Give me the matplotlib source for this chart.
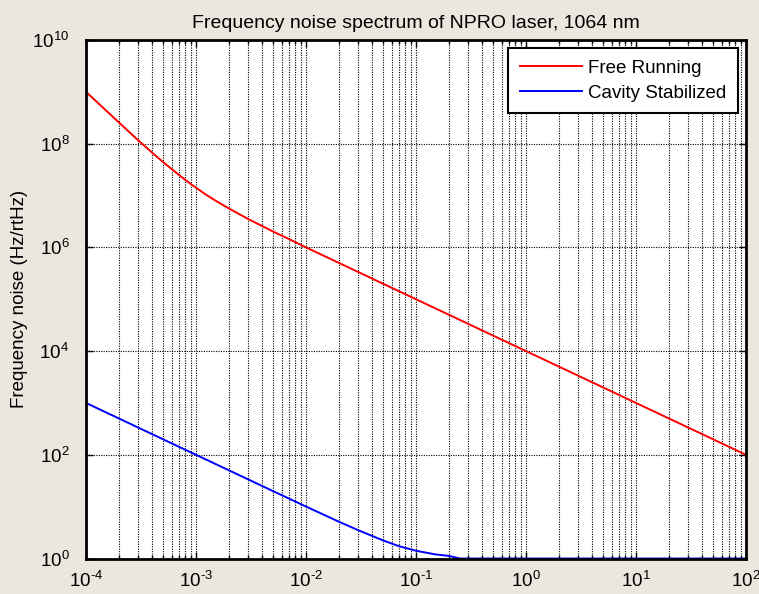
import matplotlib
matplotlib.use("Agg")
import matplotlib.pyplot as plt
from matplotlib.ticker import FixedLocator, FixedFormatter, NullFormatter

# Frequency noise spectra (Hz/rtHz) versus Fourier frequency (Hz)
freq_free = [1e-4, 1.5e-4, 2e-4, 3e-4, 4e-4, 5e-4, 6e-4, 7e-4, 8e-4, 9e-4, 1e-3,
             1.2e-3, 1.5e-3, 2e-3, 3e-3, 4e-3, 5e-3, 7e-3, 1e-2, 2e-2, 5e-2,
             1e-1, 1e0, 1e1, 1e2]
noise_free = [1.0e9, 4.5e8, 2.55e8, 1.15e8, 6.7e7, 4.45e7, 3.25e7, 2.5e7, 2.0e7, 1.66e7, 1.42e7,
              1.08e7, 8.0e6, 5.6e6, 3.5e6, 2.58e6, 2.03e6, 1.45e6, 1.0e6, 5.0e5, 2.0e5,
              1.0e5, 1.0e4, 1.0e3, 1.0e2]

freq_cav = [1e-4, 2e-4, 5e-4, 1e-3, 2e-3, 5e-3, 1e-2, 2e-2, 3e-2, 5e-2,
            7e-2, 1e-1, 1.5e-1, 2e-1, 2.5e-1, 5e-1, 1e0, 1e1, 1e2]
noise_cav = [1000, 500, 200, 100, 50, 20, 10.05, 5.1, 3.5, 2.24,
             1.73, 1.41, 1.2, 1.12, 1.0, 1.0, 1.0, 1.0, 1.0]

series_names = ["Free Running", "Cavity Stabilized"]
series_colors = ["#ff0000", "#0000ff"]

x_ticks = [1e-4, 1e-3, 1e-2, 1e-1, 1e0, 1e1, 1e2]
x_ticklabels = [r"$\mathregular{10^{\text{-}4}}$", r"$\mathregular{10^{\text{-}3}}$",
                r"$\mathregular{10^{\text{-}2}}$", r"$\mathregular{10^{\text{-}1}}$",
                r"$\mathregular{10^{0}}$", r"$\mathregular{10^{1}}$", r"$\mathregular{10^{2}}$"]
y_ticks = [1e0, 1e2, 1e4, 1e6, 1e8, 1e10]
y_ticklabels = [r"$\mathregular{10^{0}}$", r"$\mathregular{10^{2}}$", r"$\mathregular{10^{4}}$",
                r"$\mathregular{10^{6}}$", r"$\mathregular{10^{8}}$", r"$\mathregular{10^{10}}$"]

title = "Frequency noise spectrum of NPRO laser, 1064 nm"
ylabel = "Frequency noise (Hz/rtHz)"

plt.rcParams["font.family"] = ["Liberation Sans", "DejaVu Sans"]
plt.rcParams["mathtext.fontset"] = "custom"
plt.rcParams["mathtext.rm"] = "Liberation Sans"
plt.rcParams["axes.unicode_minus"] = False

bg = "#ebe7de"
fig = plt.figure(figsize=(7.59, 5.94), dpi=100, facecolor=bg)
ax = fig.add_axes([86 / 759, 1 - 558.5 / 594, 660 / 759, 518.5 / 594])
ax.set_facecolor("white")

ax.loglog(freq_free, noise_free, color=series_colors[0], lw=1.4, label=series_names[0])
ax.loglog(freq_cav, noise_cav, color=series_colors[1], lw=1.4, label=series_names[1])

ax.set_xlim(1e-4, 1e2)
ax.set_ylim(1e0, 1e10)

ax.xaxis.set_major_locator(FixedLocator(x_ticks))
ax.xaxis.set_major_formatter(FixedFormatter(x_ticklabels))
minor_x = [m * 10.0 ** e for e in range(-4, 2) for m in range(2, 10)]
ax.xaxis.set_minor_locator(FixedLocator(minor_x))
ax.xaxis.set_minor_formatter(NullFormatter())
ax.yaxis.set_major_locator(FixedLocator(y_ticks))
ax.yaxis.set_major_formatter(FixedFormatter(y_ticklabels))
ax.yaxis.set_minor_locator(FixedLocator([]))

grid_kw = dict(color="black", linestyle=(0, (1, 1.2)), linewidth=0.8)
ax.grid(True, which="major", axis="both", **grid_kw)
ax.grid(True, which="minor", axis="x", **grid_kw)
ax.set_axisbelow(True)

ax.tick_params(which="both", direction="in", top=True, right=True, color="black",
               labelsize=13.5)
ax.tick_params(axis="x", pad=9)
ax.tick_params(axis="y", pad=12)
ax.tick_params(which="major", length=5, width=1)
ax.tick_params(which="minor", length=3, width=1)

for sp in ax.spines.values():
    sp.set_linewidth(2)
    sp.set_color("black")

ax.set_title(title, fontsize=14, pad=9)
ax.set_ylabel(ylabel, fontsize=13.5)
ax.yaxis.set_label_coords(-58 / 660, 0.5)

leg = ax.legend(loc="upper right", fontsize=13.5, fancybox=False, framealpha=1,
                edgecolor="black", borderaxespad=0.45, handlelength=3.3,
                handletextpad=0.35, labelspacing=0.42, borderpad=0.6)
leg.get_frame().set_linewidth(1.5)

fig.savefig("out.png", dpi=100, facecolor=bg)
